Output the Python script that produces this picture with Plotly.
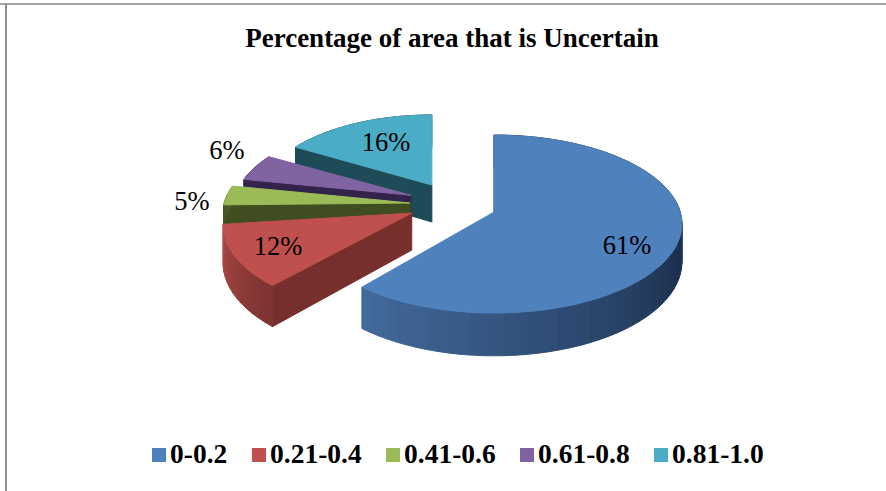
import math
import plotly.graph_objects as go

# ---- data ----
categories = ["0-0.2", "0.21-0.4", "0.41-0.6", "0.61-0.8", "0.81-1.0"]
percent_values = [61, 12, 5, 6, 16]
title_text = "Percentage of area that is Uncertain"

# ---- styles ----
top_colors = ["#4F81BD", "#C0504D", "#9BBB59", "#8064A2", "#4BACC6"]
radial_colors = ["#1d3150", "#772f2d", "#3f4d20", "#33234a", "#1d4b57"]
rim_dark = [(29, 49, 80), (125, 52, 50), (63, 77, 32), (51, 35, 74), (29, 75, 87)]
rim_light = [(68, 108, 158), (176, 74, 71), (80, 98, 42), (60, 42, 86), (29, 75, 87)]
rim_fade_from = [110, 222, 262, 280, 302]
label_px = [(627, 247), (278, 248), (192, 203), (227, 152), (386, 144)]
legend_swatch_px = [159, 259, 393, 527, 661]

# ---- projection of the tilted, exploded pie on to the page ----
CX, CY = 452.0, 204.7   # pie centre
RA, RB = 186.0, 87.4    # disc radii
KP = 0.135              # perspective strength
PULL = 0.247            # explosion
DEPTH = 37.0            # wall height
# small per-slice corrections for the foreshortening of the 3-D view
view_scale = [1.0, 1.005, 1.0, 0.94, 0.91]
view_start = [0.0, 2.5, 6.0, 0.7, -1.8]
view_end = [0.0, 0.0, 0.7, -2.4, 0.0]
view_shift = [(-1, 0), (0, -2), (4, -1), (1.5, -1.5), (2, -0.8)]
view_depth = [1.0, 1.0, 0.5, 0.5, 1.0]


def rim_point(apex, theta_deg, scale=1.0, depth=0.0):
    t = math.radians(theta_deg)
    X, Y = math.sin(t), -math.cos(t)
    s = 1 / (1 - KP * Y)
    return (apex[0] + RA * scale * X * s, apex[1] + RB * scale * Y * s + depth * s)


def add_poly(fig, pts, color):
    fig.add_trace(go.Scatter(
        x=[p[0] for p in pts] + [pts[0][0]], y=[p[1] for p in pts] + [pts[0][1]],
        mode="lines", fill="toself", fillcolor=color, line=dict(color=color, width=1),
        hoverinfo="skip", showlegend=False))


fig = go.Figure()
total = sum(percent_values)
starts, c = [], 0.0
for v in percent_values:
    starts.append(c)
    c += v / total * 360

for i in [4, 3, 2, 1, 0]:
    a0 = starts[i]
    a1 = a0 + percent_values[i] / total * 360
    mid = math.radians((a0 + a1) / 2)
    apex = (CX + RA * PULL * math.sin(mid) + view_shift[i][0],
            CY - RB * PULL * math.cos(mid) + view_shift[i][1])
    a0 += view_start[i]
    a1 += view_end[i]
    sc = view_scale[i]
    d = DEPTH * view_depth[i]
    n = max(6, int((a1 - a0) / 3))
    angles = [a0 + (a1 - a0) * k / n for k in range(n + 1)]
    # radial wall at the start angle
    add_poly(fig, [apex, rim_point(apex, a0, sc), rim_point(apex, a0, sc, d), (apex[0], apex[1] + DEPTH)],
             radial_colors[i])
    # outer wall
    for k in range(n):
        u = max(0.0, (angles[k] - rim_fade_from[i]) / max(1.0, a1 - rim_fade_from[i]))
        col = [rim_dark[i][j] + (rim_light[i][j] - rim_dark[i][j]) * u for j in range(3)]
        color = "rgb(%d,%d,%d)" % tuple(col)
        add_poly(fig, [rim_point(apex, angles[k], sc), rim_point(apex, angles[k + 1], sc),
                       rim_point(apex, angles[k + 1], sc, d), rim_point(apex, angles[k], sc, d)], color)
    # top face
    add_poly(fig, [apex] + [rim_point(apex, a, sc) for a in angles], top_colors[i])

# percentage labels
fig.add_trace(go.Scatter(
    x=[p[0] for p in label_px], y=[p[1] for p in label_px],
    text=["%d%%" % v for v in percent_values], mode="text", textposition="middle center",
    textfont=dict(family="Liberation Serif", size=26.5, color="#000000"),
    hoverinfo="skip", showlegend=False))

# legend
for i, name in enumerate(categories):
    fig.add_trace(go.Scatter(
        x=[legend_swatch_px[i]], y=[455], mode="markers",
        marker=dict(symbol="square", size=14, color=top_colors[i]),
        hoverinfo="skip", showlegend=False))
    fig.add_trace(go.Scatter(
        x=[legend_swatch_px[i] + 11], y=[456.5], mode="text", text=[name], textposition="middle right",
        textfont=dict(family="Liberation Serif", size=27.5, color="#000000", weight="bold"),
        hoverinfo="skip", showlegend=False))

fig.update_layout(
    width=886, height=491, margin=dict(l=0, r=0, t=0, b=0),
    paper_bgcolor="white", plot_bgcolor="white", showlegend=False,
    xaxis=dict(range=[0, 886], visible=False, fixedrange=True),
    yaxis=dict(range=[491, 0], visible=False, fixedrange=True),
    title=dict(text="<b>%s</b>" % title_text, x=452 / 886, xanchor="center", y=1 - 38 / 491, yanchor="middle",
               font=dict(family="Liberation Serif", size=27, color="#000000")),
    shapes=[
        dict(type="line", xref="paper", yref="paper", x0=0, x1=1, y0=1 - 4 / 491, y1=1 - 4 / 491,
             line=dict(color="#a6a6a6", width=2)),
        dict(type="line", xref="paper", yref="paper", x0=6 / 886, x1=6 / 886, y0=0, y1=1 - 3 / 491,
             line=dict(color="#8f8f8f", width=2)),
    ],
)
fig.write_html("out.html", config=dict(displayModeBar=False),
               post_script="document.body.style.margin='0';document.documentElement.style.overflow='hidden';")
